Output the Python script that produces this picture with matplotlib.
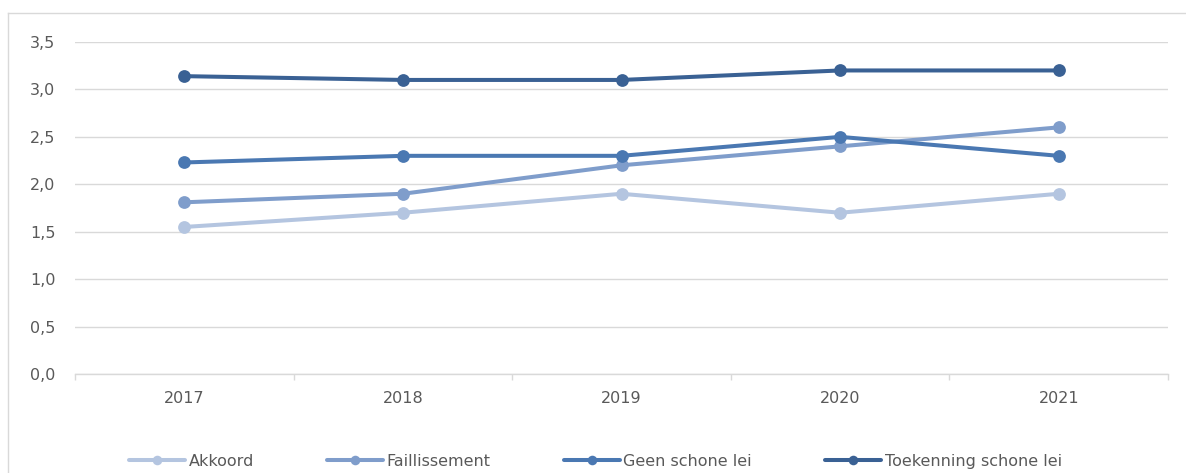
import matplotlib.pyplot as plt
from matplotlib.ticker import FuncFormatter, FixedLocator
from matplotlib.lines import Line2D

plt.rcParams["font.family"] = ["DejaVu Sans"]

# Data
years = ["2017", "2018", "2019", "2020", "2021"]
akkoord = [1.55, 1.70, 1.90, 1.70, 1.90]
faillissement = [1.81, 1.90, 2.20, 2.40, 2.60]
geen_schone_lei = [2.23, 2.30, 2.30, 2.50, 2.30]
toekenning_schone_lei = [3.14, 3.10, 3.10, 3.20, 3.20]

series = [
    ("Akkoord", akkoord, "#B4C5E0"),
    ("Faillissement", faillissement, "#7F9DCB"),
    ("Geen schone lei", geen_schone_lei, "#4A78B2"),
    ("Toekenning schone lei", toekenning_schone_lei, "#3A6194"),
]

text_color = "#595959"
grid_color = "#D9D9D9"
fs = 11.5

fig = plt.figure(figsize=(11.86, 4.73), dpi=100)
ax = fig.add_axes([75 / 1186, 1 - 374 / 473, 1093 / 1186, 332 / 473])

x = list(range(len(years)))
for name, vals, col in series:
    ax.plot(x, vals, color=col, linewidth=2.9, marker="o", markersize=9.2,
            markeredgewidth=0, solid_capstyle="round", label=name, zorder=3)

ax.set_xlim(-0.5, len(years) - 0.5)
ax.set_ylim(0, 3.5)
ax.set_yticks([0, 0.5, 1.0, 1.5, 2.0, 2.5, 3.0, 3.5])
ax.yaxis.set_major_formatter(FuncFormatter(lambda v, p: f"{v:.1f}".replace(".", ",")))
ax.set_xticks(x)
ax.set_xticklabels(years)
ax.xaxis.set_minor_locator(FixedLocator([i - 0.5 for i in range(len(years) + 1)]))

ax.grid(axis="y", color=grid_color, linewidth=1)
ax.set_axisbelow(True)
for s in ["top", "right", "left"]:
    ax.spines[s].set_visible(False)
ax.spines["bottom"].set_color(grid_color)
ax.spines["bottom"].set_linewidth(1)

ax.tick_params(axis="y", length=0, pad=14, labelsize=fs, labelcolor=text_color)
ax.tick_params(axis="x", which="major", length=0, pad=12, labelsize=fs, labelcolor=text_color)
ax.tick_params(axis="x", which="minor", length=4, width=1, color=grid_color)

fig.legend(loc="center", bbox_to_anchor=(0.502, 1 - 461 / 473), ncol=4, frameon=False,
           fontsize=fs, labelcolor=text_color, handlelength=3.5,
           handletextpad=0.25, columnspacing=4.56, markerscale=0.75)

# chart area border (left and top visible)
bx = 8 / 1186
by = 1 - 13 / 473
fig.add_artist(Line2D([bx, bx], [0, by], transform=fig.transFigure, color=grid_color, linewidth=1))
fig.add_artist(Line2D([bx, 1.0], [by, by], transform=fig.transFigure, color=grid_color, linewidth=1))

plt.savefig("out.png", dpi=100)
